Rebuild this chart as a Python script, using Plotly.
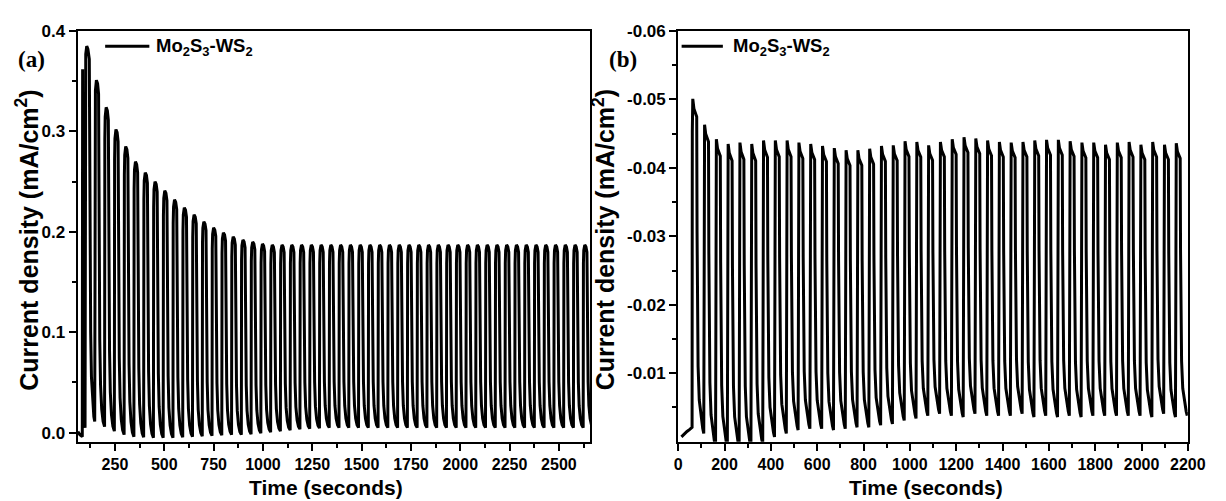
import numpy as np
import plotly.graph_objects as go

# ---------------- Panel (a) data ----------------
# leading baseline + first light cycle (time s, current mA/cm2)
a_lead_t = [62, 72, 84.5, 85.3, 86.2, 87.2, 88.5, 92, 98.5, 99.6, 102, 107, 113, 120,
            122, 124, 127, 131, 137, 143, 147.5]
a_lead_v = [0.001, -0.002, -0.004, 0.35, 0.362, 0.22, 0.05, 0.012, 0.005, 0.36, 0.377, 0.385, 0.382, 0.372,
            0.29, 0.18, 0.10, 0.055, 0.028, 0.016, 0.011]
a_first_on = 148.0      # light-on of 2nd cycle (s)
a_period = 49.5         # chopping period (s)
a_peaks = [0.351, 0.324, 0.302, 0.285, 0.270, 0.259, 0.250, 0.241, 0.232, 0.224,
           0.217, 0.210, 0.204, 0.199, 0.195, 0.192, 0.190, 0.188, 0.187, 0.187,
           0.187, 0.187, 0.187, 0.187, 0.187, 0.187, 0.187, 0.187, 0.187, 0.187,
           0.187, 0.187, 0.187, 0.187, 0.187, 0.187, 0.187, 0.187, 0.187, 0.187,
           0.187, 0.187, 0.187, 0.187, 0.187, 0.187, 0.187, 0.187, 0.187, 0.187,
           0.187]
a_troughs = [0.006, 0.0015, -0.002, -0.004, -0.0045, -0.005, -0.005, -0.005, -0.0045, -0.004,
             -0.0035, -0.003, -0.0025, -0.002, -0.002, -0.0015, -0.0005, 0.0005, 0.0015, 0.0025,
             0.0035, 0.004, 0.0045, 0.005, 0.005, 0.005, 0.005, 0.005, 0.005, 0.005,
             0.005, 0.005, 0.005, 0.005, 0.005, 0.005, 0.005, 0.005, 0.005, 0.005,
             0.005, 0.005, 0.005, 0.005, 0.005, 0.005, 0.005, 0.005, 0.005, 0.005,
             0.005]

# ---------------- Panel (b) data ----------------
b_lead_t = [14, 25, 38, 50, 59]
b_lead_v = [-0.0007, -0.0011, -0.0015, -0.0018, -0.0021]
b_first_on = 60.0
b_period = 50.9
b_peaks = [-0.0501, -0.0463, -0.0442, -0.0435, -0.0437, -0.0435, -0.0440, -0.0440, -0.0440, -0.0437,
           -0.0435, -0.0432, -0.0429, -0.0426, -0.0426, -0.0428, -0.0432, -0.0433, -0.0439, -0.0438,
           -0.0433, -0.0438, -0.0442, -0.0445, -0.0443, -0.0440, -0.0438, -0.0437, -0.0438, -0.0440,
           -0.0441, -0.0441, -0.0439, -0.0437, -0.0437, -0.0434, -0.0437, -0.0438, -0.0434, -0.0438,
           -0.0434, -0.0436]
b_troughs = [-0.0012, 0.0008, 0.0008, 0.0008, 0.0008, 0.0003, -0.0007, -0.0012, -0.0017, -0.0019,
             -0.0019, -0.0017, -0.0019, -0.0021, -0.0021, -0.0024, -0.0026, -0.0031, -0.0034, -0.0038,
             -0.0041, -0.0038, -0.0036, -0.0041, -0.0038, -0.0038, -0.0038, -0.0041, -0.0036, -0.0038,
             -0.0036, -0.0038, -0.0036, -0.0038, -0.0038, -0.0038, -0.0038, -0.0038, -0.0036, -0.0041,
             -0.0036, -0.0038]

# light-on / light-off response shape of one cycle: (seconds after light-on, fraction of amplitude)
a_on_shape = [(0, 0.0), (1.2, 0.90), (3, 0.97), (8, 1.0), (14, 0.99), (19, 0.96)]
a_off_shape = [(20.5, 0.75), (22.5, 0.45), (25, 0.25), (29, 0.12), (35, 0.05), (42, 0.015), (49, 0.0)]
b_on_shape = [(0, 0.0), (1.0, 0.90), (3, 1.0), (8, 0.97), (15, 0.955), (20, 0.945)]
b_off_shape = [(21.5, 0.6), (23, 0.35), (26, 0.2), (31, 0.1), (38, 0.05), (46, 0.015), (50.4, 0.0)]


def build(lead_t, lead_v, first_on, period, peaks, troughs, on_shape, off_shape):
    t = list(lead_t)
    v = list(lead_v)
    prev = lead_v[-1]
    for i, (p, q) in enumerate(zip(peaks, troughs)):
        on = first_on + period * i
        for dt, f in on_shape:
            t.append(on + dt)
            v.append(prev + f * (p - prev))
        for dt, f in off_shape:
            t.append(on + dt)
            v.append(q + f * (p - q))
        prev = q
    return t, v


ta, va = build(a_lead_t, a_lead_v, a_first_on, a_period, a_peaks, a_troughs, a_on_shape, a_off_shape)
tb, vb = build(b_lead_t, b_lead_v, b_first_on, b_period, b_peaks, b_troughs, b_on_shape, b_off_shape)

W, H = 1226, 501


def px(x):
    return x / W


def py(y):
    return 1 - y / H


FONT = "Liberation Sans"
xtickfont = dict(family=FONT, size=16, color="black", weight="bold")
ytickfont = dict(family=FONT, size=17, color="black", weight="bold")

fig = go.Figure()
fig.add_trace(go.Scatter(x=ta, y=va, mode="lines", line=dict(color="black", width=3),
                         xaxis="x", yaxis="y", showlegend=False))
fig.add_trace(go.Scatter(x=tb, y=vb, mode="lines", line=dict(color="black", width=3),
                         xaxis="x2", yaxis="y2", showlegend=False))

axis_common = dict(showline=True, linewidth=2, linecolor="black", mirror=True, showgrid=False,
                   zeroline=False, ticks="outside", ticklen=7, tickwidth=2, tickcolor="black")
minor_common = dict(ticks="outside", ticklen=4, tickwidth=2, tickcolor="black")

fig.update_layout(
    width=W, height=H, margin=dict(l=0, r=0, t=0, b=0),
    paper_bgcolor="white", plot_bgcolor="white", showlegend=False,
    xaxis=dict(domain=[px(75), px(597)], anchor="y", range=[61, 2659], tickmode="linear", tick0=0,
               dtick=250, minor=dict(tick0=0, dtick=125, **minor_common), tickfont=xtickfont,
               **axis_common),
    yaxis=dict(domain=[py(441.5), py(22.5)], anchor="x", range=[-0.009, 0.4], tickmode="linear",
               tick0=0, dtick=0.1, tickformat=".1f", minor=dict(tick0=0, dtick=0.05, **minor_common),
               tickfont=ytickfont, **axis_common),
    xaxis2=dict(domain=[px(686.5), px(1205.5)], anchor="y2", range=[0, 2200], tickmode="linear", tick0=0,
                dtick=200, minor=dict(tick0=0, dtick=100, **minor_common), tickfont=xtickfont,
                **axis_common),
    yaxis2=dict(domain=[py(441.5), py(22.5)], anchor="x2", range=[0, -0.06], tickmode="array",
                tickvals=[-0.01, -0.02, -0.03, -0.04, -0.05, -0.06],
                ticktext=["-0.01", "-0.02", "-0.03", "-0.04", "-0.05", "-0.06"],
                minor=dict(tickvals=[-0.005, -0.015, -0.025, -0.035, -0.045, -0.055], **minor_common),
                tickfont=ytickfont, **axis_common),
)

ann = []
for xc in (24, 611):
    ann.append(dict(x=px(xc), y=py(236), xref="paper", yref="paper", text="Current density (mA/cm<sup>2</sup>)",
                    textangle=-90, showarrow=False,
                    font=dict(family=FONT, size=25, color="black", weight="bold"),
                    xanchor="center", yanchor="middle"))
for xc in (328, 939):
    ann.append(dict(x=px(xc), y=py(488), xref="paper", yref="paper", text="Time (seconds)",
                    showarrow=False, font=dict(family=FONT, size=21, color="black", weight="bold"),
                    xanchor="center", yanchor="middle"))
for xc, lab in ((28, "(a)"), (630, "(b)")):
    ann.append(dict(x=px(xc), y=py(52), xref="paper", yref="paper", text=lab, showarrow=False,
                    font=dict(family="Liberation Serif", size=23, color="black", weight="bold"),
                    xanchor="center", yanchor="middle"))
for xl in (153, 740):
    ann.append(dict(x=px(xl), y=py(39), xref="paper", yref="paper",
                    text="Mo<sub>2</sub>S<sub>3</sub>-WS<sub>2</sub>", showarrow=False,
                    font=dict(family=FONT, size=18.5, color="black", weight="bold"),
                    xanchor="left", yanchor="middle"))
fig.update_layout(annotations=ann)

shapes = []
for x0, x1 in ((103, 148), (690, 732)):
    shapes.append(dict(type="line", xref="paper", yref="paper", x0=px(x0), x1=px(x1), y0=py(38), y1=py(38),
                       line=dict(color="black", width=3)))
fig.update_layout(shapes=shapes)

fig.write_html("out.html")
